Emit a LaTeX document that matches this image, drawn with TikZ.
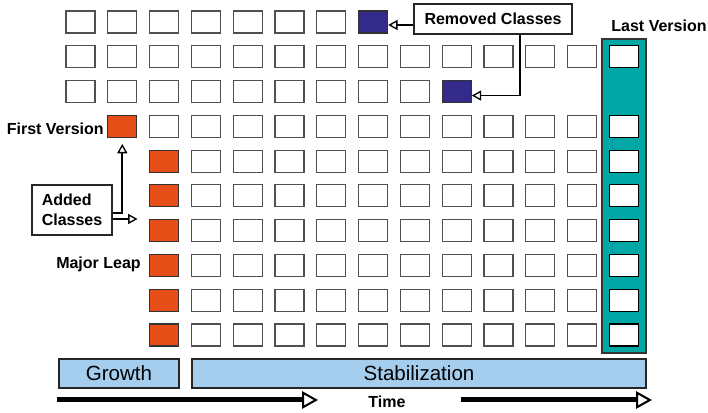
\documentclass[tikz,border=0pt]{standalone}
\usepackage{fontspec}
\setmainfont{Liberation Sans}
\usetikzlibrary{arrows.meta,calc}
\definecolor{cellgray}{HTML}{505050}
\definecolor{leaporange}{HTML}{E64E17}
\definecolor{removedblue}{HTML}{332A8A}
\definecolor{tealc}{HTML}{00A7A5}
\definecolor{barblue}{HTML}{A5CDED}
\begin{document}
\begin{tikzpicture}[x=0.75pt,y=-0.75pt,
  cell/.style={draw=cellgray,fill=white,line width=0.9pt,minimum width=21.75pt,minimum height=16.5pt,inner sep=0pt},
  orangecell/.style={cell,draw=black!80,fill=leaporange},
  bluecell/.style={cell,draw=black!80,fill=removedblue},
  lastcell/.style={cell,draw=black},
  tealbox/.style={draw=black!80,fill=tealc,line width=0.9pt,minimum width=33pt,minimum height=235.5pt,inner sep=0pt},
  lbl/.style={font=\fontsize{12}{14.6}\selectfont\bfseries,inner sep=0pt},
  callout/.style={draw=black!85,fill=white,line width=0.8pt,font=\fontsize{12}{14.6}\selectfont\bfseries,inner sep=0pt},
  bar/.style={draw=black!85,fill=barblue,line width=0.8pt,minimum height=21.75pt,inner sep=0pt,font=\fontsize{15.4}{18}\selectfont},
  con/.style={draw=black,line width=1.4pt,-{Triangle[open,length=7pt,width=7.5pt,line width=1pt]}},
  timearrow/.style={draw=black,line width=3.75pt,-{Triangle[open,length=12pt,width=13pt,line width=1.5pt]}}
]
\useasboundingbox (0,0) rectangle (708,413);
% last version column
\node[tealbox] (lastcol) at (624,196) {};
% grid
\foreach \c in {0,...,6} \node[cell] (c-0-\c) at ({80.5+41.8*\c},22) {};
\node[bluecell] (c-0-7) at ({80.5+41.8*7},22) {};
\foreach \c in {0,...,12} \node[cell] (c-1-\c) at ({80.5+41.8*\c},{22+34.78}) {};
\node[lastcell] (c-1-13) at ({80.5+41.8*13},{22+34.78}) {};
\foreach \c in {0,...,8} \node[cell] (c-2-\c) at ({80.5+41.8*\c},{22+34.78*2}) {};
\node[bluecell] (c-2-9) at ({80.5+41.8*9},{22+34.78*2}) {};
\node[orangecell] (c-3-1) at ({80.5+41.8},{22+34.78*3}) {};
\foreach \c in {2,...,12} \node[cell] (c-3-\c) at ({80.5+41.8*\c},{22+34.78*3}) {};
\node[lastcell] (c-3-13) at ({80.5+41.8*13},{22+34.78*3}) {};
\foreach \r in {4,...,9}{
  \node[orangecell] (c-\r-2) at ({80.5+41.8*2},{22+34.78*\r}) {};
  \foreach \c in {3,...,12} \node[cell] (c-\r-\c) at ({80.5+41.8*\c},{22+34.78*\r}) {};
  \node[lastcell] (c-\r-13) at ({80.5+41.8*13},{22+34.78*\r}) {};
}
% labels
\node[lbl,anchor=east] (fv) at (104,129) {First Version};
\node[lbl,anchor=east] (ml) at (141,264) {Major Leap};
\node[lbl] (lv) at (659,26) {Last Version};
\node[callout,minimum width=118.5pt,minimum height=22.5pt] (rm) at (493,19) {Removed Classes};
\node[callout,align=left,minimum width=60pt,minimum height=37.5pt] (ad) at (72,210) {Added\\Classes};
% connectors
\coordinate (rmtip) at ($(c-0-7.east)+(0,3)$);
\draw[con] (rm.west |- rmtip) -- (rmtip);
\coordinate (rmtip2) at ($(c-2-9.east)+(0,4)$);
\draw[con] ($(rm.south)+(27,0)$) |- (rmtip2);
\draw[con] ($(ad.east)+(0,3)$) -| ($(c-3-1.south)+(0,6)$);
\coordinate (adtip) at ($(ad.east)+(25,9)$);
\draw[con] ($(ad.east)+(0,9)$) -- (adtip);
% phase bars
\node[bar,minimum width=90pt] (gr) at (119,373.5) {Growth};
\node[bar,minimum width=340.5pt] (st) at (419,373.5) {Stabilization};
% time
\node[lbl] (time) at (387,402) {Time};
\coordinate (t1s) at (57,400);
\coordinate (t1e) at (318,400);
\coordinate (t2s) at (461,400);
\coordinate (t2e) at (652,400);
\draw[timearrow] (t1s) -- (t1e);
\draw[timearrow] (t2s) -- (t2e);
\end{tikzpicture}
\end{document}
